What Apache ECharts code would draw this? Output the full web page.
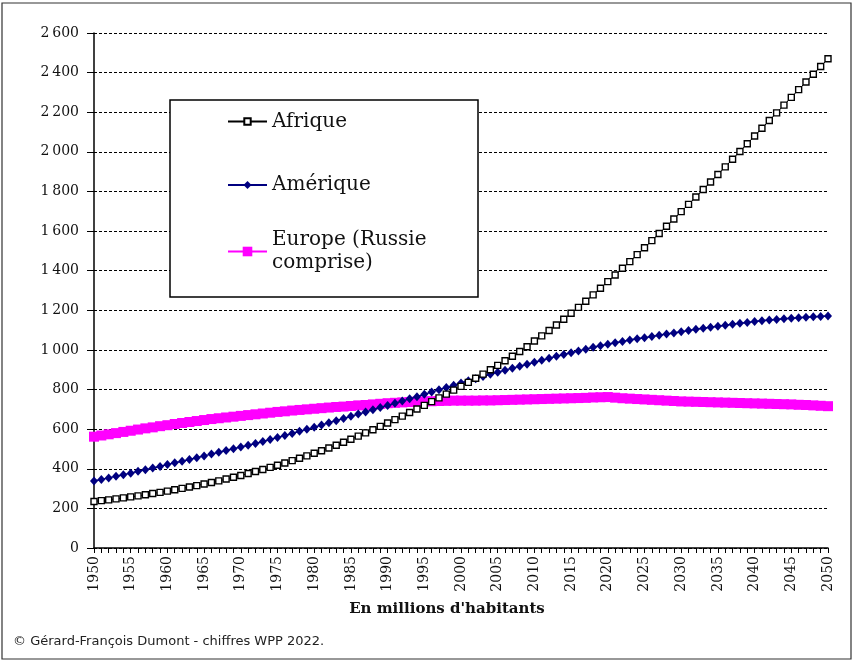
<!DOCTYPE html>
<html>
<head>
<meta charset="utf-8">
<script src="https://cdn.jsdelivr.net/npm/echarts@6/dist/echarts.min.js"></script>
<style>
html,body{margin:0;padding:0;background:#fff;}
#chart{width:854px;height:662px;}
</style>
</head>
<body>
<div id="chart"></div>
<script>
const years = [];
for (let y = 1950; y <= 2050; y++) years.push(String(y));

const afrique = [
 235,239,243,248,253,258,263,269,275,281,
 287,294,301,308,315,323,331,339,348,357,
 366,376,386,396,407,418,429,441,453,465,
 478,491,505,519,534,549,565,581,597,614,
 631,648,666,684,702,720,739,758,777,797,
 816,836,857,878,900,922,945,968,992,1016,
 1045,1071,1098,1126,1155,1185,1215,1246,1278,1311,
 1345,1378,1412,1446,1481,1516,1552,1588,1624,1661,
 1698,1735,1772,1810,1848,1886,1924,1963,2002,2041,
 2080,2119,2158,2197,2236,2275,2314,2353,2392,2431,
 2470
];
const amerique = [
 338,346,354,362,370,378,387,395,404,412,
 421,430,438,447,456,465,474,483,492,501,
 510,519,528,538,548,558,568,578,589,599,
 610,621,632,643,654,665,676,687,698,709,
 720,731,742,753,764,776,787,799,810,822,
 833,844,855,866,877,887,898,908,918,928,
 938,948,958,968,977,986,995,1004,1013,1021,
 1029,1036,1043,1050,1056,1062,1068,1074,1080,1086,
 1092,1098,1104,1110,1115,1120,1125,1130,1135,1139,
 1143,1147,1151,1154,1157,1160,1163,1165,1167,1169,
 1171
];
const europe = [
 562,568,574,580,586,592,598,604,609,615,
 620,626,631,636,641,646,651,655,659,663,
 667,671,675,679,683,687,690,694,697,700,
 703,706,709,712,714,717,720,722,725,728,
 731,733,735,737,739,740,741,742,743,744,
 744,744,744,745,745,746,747,748,749,750,
 751,752,753,754,755,756,757,758,760,761,
 762,759,756,754,752,750,748,746,744,742,
 740,739,738,737,736,735,734,733,732,731,
 730,729,728,727,726,725,723,722,720,718,
 716
];
const seriesNames = ['Afrique', 'Amérique', 'Europe (Russie comprise)'];
const yTicks = { min: 0, max: 2600, step: 200 };
const footer = '© Gérard-François Dumont - chiffres WPP 2022.';
const xTitle = "En millions d'habitants";

const SERIF = '"DejaVu Serif", serif';
const chart = echarts.init(document.getElementById('chart'));

function fmtThousands(v) {
  const s = String(v);
  return s.length > 3 ? s.slice(0, s.length - 3) + '\u2009' + s.slice(s.length - 3) : s;
}

const legendText = { fontFamily: SERIF, fontSize: 20, color: '#111', lineHeight: 23 };

chart.setOption({
  animation: false,
  backgroundColor: '#fff',
  title: {
    text: footer, left: 8, top: 630,
    textStyle: { fontFamily: '"DejaVu Sans", sans-serif', fontSize: 13, fontWeight: 'normal', color: '#222' }
  },
  graphic: [{
    type: 'rect', shape: { x: 2, y: 3, width: 849, height: 656 },
    style: { fill: 'none', stroke: '#333', lineWidth: 1.2 }, z: 0, silent: true
  }],
  grid: { left: 94, right: 26, top: 33, bottom: 114 },
  legend: [
    {
      data: [seriesNames[0]], orient: 'vertical', left: 170, top: 100,
      padding: [10, 26, 164, 57], itemWidth: 39, itemHeight: 8,
      backgroundColor: '#fff', borderColor: '#000', borderWidth: 1.5,
      textStyle: Object.assign({ width: 180 }, legendText), z: 5
    },
    {
      data: [seriesNames[1]], orient: 'vertical', left: 227, top: 173.5,
      padding: 0, itemWidth: 39, itemHeight: 10,
      textStyle: legendText, z: 6
    },
    {
      data: [seriesNames[2]], orient: 'vertical', left: 227, top: 217,
      padding: 0, itemWidth: 39, itemHeight: 12,
      formatter: () => 'Europe (Russie\ncomprise)',
      textStyle: Object.assign({ padding: [23, 0, 0, 0] }, legendText), z: 6
    }
  ],
  xAxis: {
    type: 'category', data: years, boundaryGap: false,
    name: xTitle, nameLocation: 'middle', nameGap: 54,
    nameTextStyle: { fontFamily: SERIF, fontSize: 15, fontWeight: 'bold', color: '#111', padding: [0, 28, 0, 0] },
    axisLine: { lineStyle: { color: '#000', width: 1.5 } },
    axisTick: { show: true, interval: 0, length: 5, lineStyle: { color: '#000', width: 1 } },
    axisLabel: { interval: 4, rotate: 90, margin: 8, fontFamily: SERIF, fontSize: 14, color: '#111' },
    splitLine: { show: false }
  },
  yAxis: {
    type: 'value', min: yTicks.min, max: yTicks.max, interval: yTicks.step,
    axisLine: { show: true, lineStyle: { color: '#000', width: 1.5 } },
    axisTick: { show: true, length: 7, lineStyle: { color: '#000', width: 1 } },
    axisLabel: { margin: 15, fontFamily: SERIF, fontSize: 14, color: '#111', formatter: fmtThousands },
    splitLine: { show: true, lineStyle: { color: '#000', width: 1, type: [3, 2] } }
  },
  series: [
    {
      name: seriesNames[2], type: 'line', data: europe, z: 2,
      symbol: 'rect', symbolSize: 10, showAllSymbol: true,
      lineStyle: { color: '#ff00ff', width: 1.5 },
      itemStyle: { color: '#ff00ff' }
    },
    {
      name: seriesNames[1], type: 'line', data: amerique, z: 3,
      symbol: 'diamond', symbolSize: [8, 9], showAllSymbol: true,
      lineStyle: { color: '#000080', width: 1.5 },
      itemStyle: { color: '#000080' }
    },
    {
      name: seriesNames[0], type: 'line', data: afrique, z: 4,
      symbol: 'rect', symbolSize: 6, showAllSymbol: true,
      lineStyle: { color: '#000', width: 1 },
      itemStyle: { color: '#fff', borderColor: '#000', borderWidth: 1.4 }
    }
  ]
});
</script>
</body>
</html>
